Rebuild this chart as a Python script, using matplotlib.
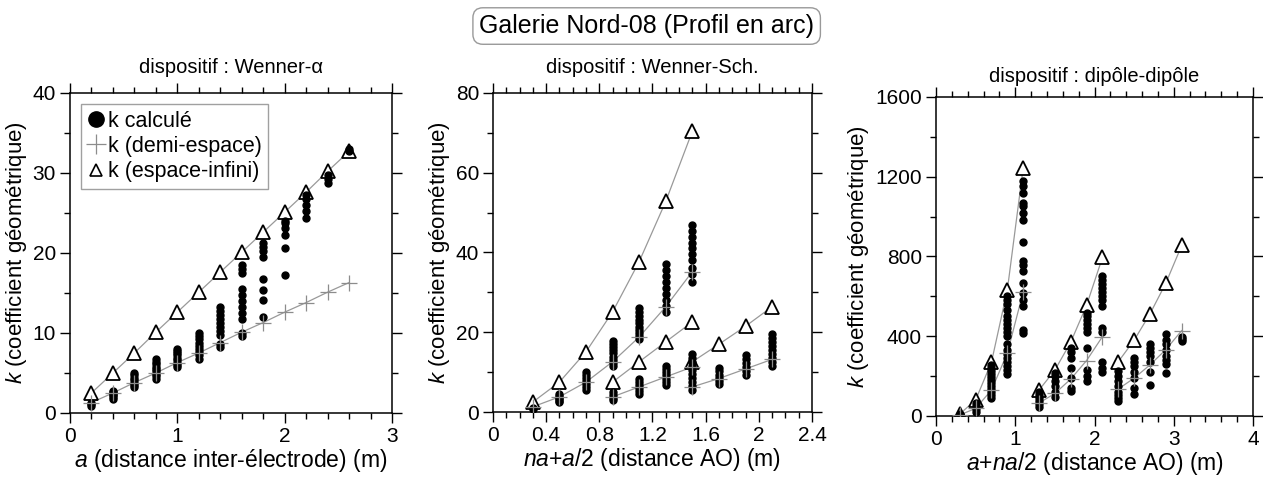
# Facteur géométrique k pour trois dispositifs (Galerie Nord-08, profil en arc)
import matplotlib
matplotlib.use("Agg")
import matplotlib.pyplot as plt
from matplotlib.ticker import MultipleLocator, FormatStrFormatter
from matplotlib.lines import Line2D

plt.rcParams['font.family'] = ['Liberation Sans', 'DejaVu Sans']
plt.rcParams['mathtext.fontset'] = 'custom'
plt.rcParams['mathtext.rm'] = 'Liberation Sans'
plt.rcParams['mathtext.it'] = 'Liberation Sans:italic'

# --- Wenner-alpha ---
wa_x = [0.2, 0.4, 0.6, 0.8, 1.0, 1.2, 1.4, 1.6, 1.8, 2.0, 2.2, 2.4, 2.6]
wa_inf = [2.5, 5.0, 7.5, 10.1, 12.6, 15.1, 17.6, 20.1, 22.6, 25.1, 27.6, 30.2, 32.7]
wa_half = [1.3, 2.5, 3.8, 5.0, 6.3, 7.5, 8.8, 10.1, 11.3, 12.6, 13.8, 15.1, 16.3]
wa_dots = [
    [0.9, 1.1, 1.3],
    [1.8, 2.0, 2.2, 2.4, 2.6, 2.8],
    [3.2, 3.5, 3.8, 4.1, 4.4, 4.7, 5.0],
    [4.3, 4.6, 4.9, 5.2, 5.5, 5.8, 6.1, 6.4, 6.7],
    [5.7, 6.0, 6.3, 6.6, 6.9, 7.2, 7.5, 7.8, 8.0],
    [6.8, 7.2, 7.6, 8.0, 8.4, 8.8, 9.2, 9.6, 10.0],
    [8.2, 8.6, 9.8, 10.3, 10.8, 11.3, 11.8, 12.3, 12.8, 13.2],
    [9.6, 10.0, 11.8, 12.5, 13.2, 14.0, 14.8, 15.5, 17.5, 18.0, 18.5],
    [12.0, 14.1, 15.4, 16.8, 19.5, 20.3, 20.8, 21.2],
    [17.3, 20.6, 22.3, 23.1, 23.7, 24.0],
    [24.4, 25.2, 26.0, 26.8, 27.3],
    [28.8, 29.3, 29.8],
    [32.8, 33.0],
]

# --- Wenner-Schlumberger ---
ws_x = [[0.3, 0.5, 0.7, 0.9, 1.1, 1.3, 1.5], [0.9, 1.1, 1.3, 1.5], [1.5, 1.7, 1.9, 2.1]]
ws_inf = [[2.5, 7.5, 15.1, 25.1, 37.7, 52.8, 70.4], [7.5, 12.6, 17.6, 22.6], [12.6, 17.0, 21.5, 26.4]]
ws_half = [[1.3, 3.8, 7.5, 12.6, 18.8, 26.4, 35.2], [3.8, 6.3, 8.8, 11.3], [6.3, 8.4, 10.8, 13.2]]
ws_dot_x = [0.3, 0.5, 0.7, 0.9, 1.1, 1.3, 1.5, 1.7, 1.9, 2.1]
ws_dots = [
    [0.8, 1.1],
    [2.4, 2.8, 3.2, 3.6, 4.0, 4.4],
    [5.5, 6.2, 7.0, 7.8, 8.5, 9.2, 10.0],
    [2.9, 3.5, 4.2, 5.0, 11.5, 12.3, 13.1, 13.9, 14.7, 15.5, 16.3, 17.1, 17.8],
    [4.6, 5.3, 6.0, 6.7, 7.4, 8.2, 18.2, 19.0, 19.8, 20.6, 21.4, 22.2, 23.0, 24.0, 25.0, 26.2],
    [6.8, 7.6, 8.4, 9.2, 10.0, 10.8, 11.6, 25.0, 26.5, 28.0, 29.5, 31.0, 32.5, 34.0, 35.5, 37.0],
    [5.6, 6.5, 7.5, 8.5, 9.5, 10.5, 11.5, 12.5, 13.5, 14.5,
     32.5, 34.5, 36.0, 38.0, 39.5, 41.0, 42.5, 44.0, 45.5, 47.0],
    [7.0, 7.8, 8.6, 9.4, 10.2, 11.0],
    [9.2, 10.2, 11.2, 12.2, 13.2, 14.2],
    [11.5, 12.5, 13.5, 14.5, 15.5, 16.5, 17.5, 18.5, 19.5],
]

# --- dipole-dipole ---
dd_x = [[0.3, 0.5, 0.7, 0.9, 1.1], [1.3, 1.5, 1.7, 1.9, 2.1], [2.3, 2.5, 2.7, 2.9, 3.1]]
dd_inf = [[10, 80, 270, 632, 1245], [130, 230, 370, 555, 795], [272, 380, 512, 666, 855]]
dd_half = [[5, 38, 130, 315, 622], [65, 113, 185, 278, 398], [135, 190, 256, 333, 428]]
dd_dot_x = [0.3, 0.5, 0.7, 0.9, 1.1, 1.3, 1.5, 1.7, 1.9, 2.1, 2.3, 2.5, 2.7, 2.9, 3.1]
dd_dots = [
    [3, 6, 9],
    [20, 35, 50, 65],
    [90, 105, 120, 135, 150, 165, 180, 195, 210, 225, 240, 255],
    [210, 230, 250, 270, 290, 310, 330, 360, 400, 420, 440, 460, 480, 500, 530, 560, 580, 600],
    [415, 432, 549, 582, 616, 666, 725, 758, 775, 872, 985, 1018, 1051, 1068, 1118, 1151, 1177],
    [45, 60, 75, 90, 105, 120],
    [95, 120, 150, 175, 200, 215],
    [125, 140, 190, 240, 290, 320, 340],
    [175, 200, 230, 340, 420, 440, 460, 480, 500, 515],
    [220, 240, 270, 420, 440, 550, 580, 600, 620, 640, 660, 680, 700],
    [75, 90, 105, 120, 150, 175, 200, 225],
    [110, 140, 190, 220, 250, 270, 290],
    [155, 220, 270, 300, 320, 340, 360],
    [215, 260, 280, 300, 330, 360, 380, 410],
    [375, 385, 395],
]

LINE_C = '#999999'
PLUS_C = '#8c8c8c'


def draw_panel(ax, xs, infs, halfs, dot_x, dots):
    for x, k in zip(xs, infs):
        ax.plot(x, k, color=LINE_C, lw=0.9, zorder=1)
        ax.plot(x, k, ls='none', marker='^', ms=9.5, mfc='white', mec='black', mew=1.3, zorder=2)
    for x, k in zip(xs, halfs):
        ax.plot(x, k, color=LINE_C, lw=0.9, zorder=1)
    for x, ks in zip(dot_x, dots):
        ax.plot([x] * len(ks), ks, ls='none', marker='o', ms=5, color='black', zorder=3)
    for x, k in zip(xs, halfs):
        ax.plot(x, k, ls='none', marker='+', ms=11, mew=0.9, color=PLUS_C, zorder=4)


def style_axes(ax, xmax, xmaj, xmin, ymax, ymaj, ymin):
    ax.set_xlim(0, xmax)
    ax.set_ylim(0, ymax)
    ax.xaxis.set_major_locator(MultipleLocator(xmaj))
    ax.xaxis.set_minor_locator(MultipleLocator(xmin))
    ax.yaxis.set_major_locator(MultipleLocator(ymaj))
    ax.yaxis.set_minor_locator(MultipleLocator(ymin))
    ax.xaxis.set_major_formatter(FormatStrFormatter('%g'))
    ax.yaxis.set_major_formatter(FormatStrFormatter('%g'))
    ax.tick_params(which='both', direction='out', top=True, right=True, width=1.0, labelsize=15)
    ax.tick_params(which='major', length=7, pad=3)
    ax.tick_params(which='minor', length=4)
    for s in ax.spines.values():
        s.set_linewidth(1.1)
    ax.set_ylabel(r'$k$ (coefficient géométrique)', fontsize=16, labelpad=3)


fig = plt.figure(figsize=(12.63, 4.82), dpi=100)
ax1 = fig.add_axes([0.0554, 0.1432, 0.255, 0.664])
ax2 = fig.add_axes([0.3903, 0.1452, 0.2526, 0.662])
ax3 = fig.add_axes([0.7411, 0.137, 0.251, 0.662])

# Wenner-alpha: single series
draw_panel(ax1, [wa_x], [wa_inf], [wa_half], wa_x, wa_dots)
style_axes(ax1, 3, 1, 0.2, 40, 10, 5)
ax1.set_xlabel(r'$a$ (distance inter-électrode) (m)', fontsize=16.5, labelpad=1)
ax1.set_title('dispositif : Wenner-α', fontsize=14.5, pad=14)

draw_panel(ax2, ws_x, ws_inf, ws_half, ws_dot_x, ws_dots)
style_axes(ax2, 2.4, 0.4, 0.1, 80, 20, 10)
ax2.set_xlabel(r'$na$+$a$/2 (distance AO) (m)', fontsize=16.5, labelpad=1)
ax2.set_title('dispositif : Wenner-Sch.', fontsize=14.5, pad=14)

draw_panel(ax3, dd_x, dd_inf, dd_half, dd_dot_x, dd_dots)
style_axes(ax3, 4, 1, 0.2, 1600, 400, 200)
ax3.set_xlabel(r'$a$+$na$/2 (distance AO) (m)', fontsize=16.5, labelpad=1)
ax3.set_title('dispositif : dipôle-dipôle', fontsize=14.5, pad=11)

# legend (first panel)
handles = [
    Line2D([], [], ls='none', marker='o', ms=11, color='black'),
    Line2D([], [], ls='none', marker='+', ms=14, mew=0.9, color=PLUS_C),
    Line2D([], [], ls='none', marker='^', ms=9, mfc='white', mec='black', mew=1.2),
]
leg = ax1.legend(handles, ['k calculé', 'k (demi-espace)', 'k (espace-infini)'],
                 loc='upper left', bbox_to_anchor=(0.035, 0.965), fontsize=15.5,
                 frameon=True, fancybox=False, handlelength=0.8, handletextpad=0.15,
                 borderpad=0.3, labelspacing=0.2, borderaxespad=0)
leg.get_frame().set_edgecolor('#888888')
leg.get_frame().set_linewidth(1.0)

fig.text(0.512, 0.946, 'Galerie Nord-08 (Profil en arc)', ha='center', va='center', fontsize=18,
         bbox=dict(boxstyle='round,pad=0.25,rounding_size=0.4', fc='white', ec='#999999', lw=1.0))

fig.savefig('out.png', dpi=100)
